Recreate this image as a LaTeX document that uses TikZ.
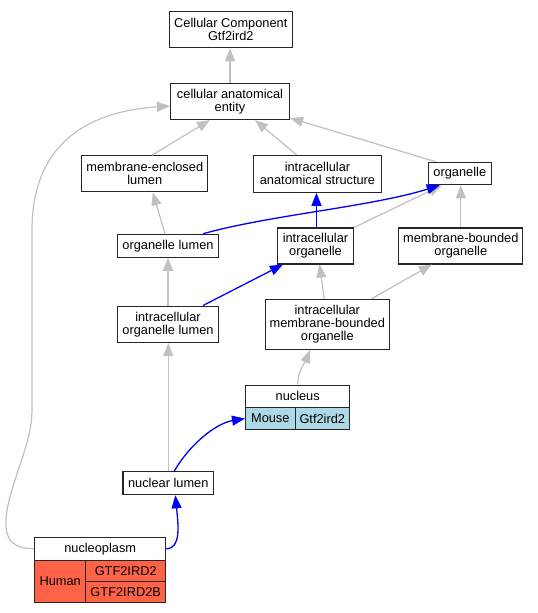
\documentclass[tikz,border=0pt]{standalone}
\usepackage{fontspec}
\setmainfont{Liberation Sans}
\usetikzlibrary{arrows.meta,calc}
\definecolor{edgegray}{RGB}{192,192,192}
\definecolor{mousecell}{RGB}{173,216,230}
\definecolor{humancell}{RGB}{255,99,71}

\begin{document}
\begin{tikzpicture}[x=1pt,y=1pt,yscale=-1,xscale=1,
  font=\fontsize{12.8}{13}\selectfont,
  term/.style={draw=black!85,line width=1.1pt,fill=white,inner sep=0pt,align=center},
  isa/.style={draw=edgegray,line width=1.2pt,-{Triangle[length=13pt,width=10pt]}},
  hit/.style={draw=blue,line width=1.3pt,-{Triangle[length=13pt,width=10pt]}}]
\useasboundingbox (0,0) rectangle (538,613);
\node[term,minimum width=123pt,minimum height=36pt] (cc) at (230.8,29.7) {Cellular Component\\Gtf2ird2};
\node[term,minimum width=119pt,minimum height=36pt] (cae) at (230,101.5) {cellular anatomical\\entity};
\node[term,minimum width=126pt,minimum height=36pt] (mel) at (144.8,173.8) {membrane-enclosed\\lumen};
\node[term,minimum width=128pt,minimum height=37pt] (ias) at (317.5,173.8) {intracellular\\anatomical structure};
\node[term,minimum width=63pt,minimum height=22.5pt] (org) at (459.8,173.5) {organelle};
\node[term,minimum width=101pt,minimum height=23pt] (ol) at (168,245.8) {organelle lumen};
\node[term,minimum width=76pt,minimum height=36pt] (io) at (315.5,246) {intracellular\\organelle};
\node[term,minimum width=124pt,minimum height=36pt] (mbo) at (460.8,246) {membrane-bounded\\organelle};
\node[term,minimum width=101pt,minimum height=36.5pt] (iol) at (168,324.3) {intracellular\\organelle lumen};
\node[term,minimum width=124pt,minimum height=50pt] (imbo) at (327.3,324.5) {intracellular\\membrane-bounded\\organelle};
\node[term,minimum width=104pt,minimum height=22.5pt] (nuc) at (297.7,396.3) {nucleus};
\node[term,fill=mousecell,minimum width=49.5pt,minimum height=21.7pt] (mouse) at (270.3,418.5) {Mouse};
\node[term,fill=mousecell,minimum width=54.5pt,minimum height=21.7pt] (mgene) at (322.3,418.5) {Gtf2ird2};
\node[term,minimum width=90.7pt,minimum height=23pt] (nl) at (168.3,483.2) {nuclear lumen};
\node[term,minimum width=131pt,minimum height=22.7pt] (npl) at (100.2,548.7) {nucleoplasm};
\node[term,fill=humancell,minimum width=51pt,minimum height=42.3pt] (human) at (60.2,581.2) {Human};
\node[term,fill=humancell,minimum width=80pt,minimum height=21.3pt] (hgene) at (125.7,570.7) {GTF2IRD2};
\node[term,fill=humancell,minimum width=80pt,minimum height=21pt] (hgeneb) at (125.7,591.8) {GTF2IRD2B};
\draw[isa] (cae.north) -- (cae.north |- cc.south);
\draw[isa] ([xshift=7pt]mel.north) -- ([xshift=-20pt]cae.south);
\draw[isa] ([xshift=-21pt]ias.north) -- ([xshift=25pt]cae.south);
\draw[isa] ([xshift=-24pt]org.north) -- ($(cae.south east)+(0,-2)$);
\draw[isa] ([xshift=-3pt]ol.north) -- ([xshift=8pt]mel.south);
\draw[isa] (io.north east) -- ([xshift=14pt]org.south west);
\draw[isa] (mbo.north) -- (mbo.north |- org.south);
\draw[isa] (iol.north) -- (ol.south);
\draw[isa] ([xshift=-3pt]imbo.north) -- ([xshift=4pt]io.south);
\draw[isa] ([xshift=44pt]imbo.north) -- ([xshift=-29pt]mbo.south);
\draw[isa] (nuc.north) .. controls +(0,-14) and +(-5,12) .. ([xshift=-17pt]imbo.south);
\draw[isa] (nl.north) -- (nl.north |- iol.south);
\draw[isa] (npl.west) .. controls (8,548.7) and (2,535) .. (8,505) .. controls (16,470) and (32,440) .. (32,410) -- (32,230) .. controls (32,150) and (80,112) .. ($(cae.west)+(0,4.5)$);
\draw[hit] ([xshift=35pt]ol.north) .. controls (270,215) and (370,207) .. ([xshift=12pt]org.south west);
\draw[hit] ([xshift=1pt]io.north) -- ([xshift=-1pt]ias.south);
\draw[hit] ([xshift=35pt]iol.north) -- ([xshift=6pt]io.south west);
\draw[hit] ([xshift=6pt]nl.north) .. controls +(14,-25) and +(-30,5) .. (mouse.west);
\draw[hit] (npl.east) .. controls +(15,0) and +(3,30) .. ([xshift=7pt]nl.south);
\end{tikzpicture}
\end{document}
